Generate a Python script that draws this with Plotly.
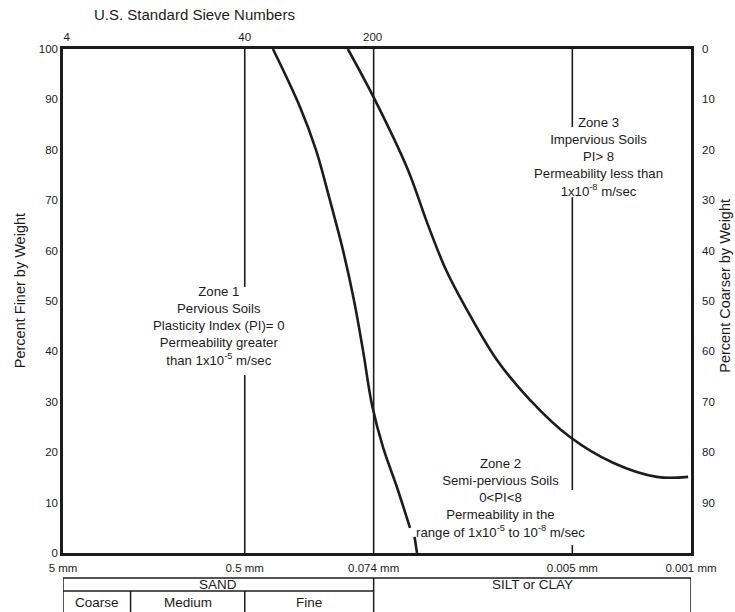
import plotly.graph_objects as go
import math

# ---------------- data ----------------
size_tick_vals = [5, 0.425, 0.074, 0.005, 0.001]
size_tick_text = ["5 mm", "0.5 mm", "0.074 mm", "0.005 mm", "0.001 mm"]
sieve_sizes_mm = [4.75, 0.425, 0.075]
sieve_labels = ["4", "40", "200"]
finer_ticks = [0, 10, 20, 30, 40, 50, 60, 70, 80, 90, 100]
coarser_ticks = [0, 10, 20, 30, 40, 50, 60, 70, 80, 90]

curve1_mm = [0.290, 0.201, 0.1618, 0.1339, 0.1122, 0.0967, 0.0856, 0.0757, 0.0652, 0.0540, 0.0452, None, 0.0425, 0.0411]
curve1_pct = [100, 88.5, 80.0, 70.0, 60.1, 50.2, 40.3, 29.4, 21.0, 13.1, 5.0, None, 3.2, 0]

curve2_mm = [0.105, 0.0737, 0.04645, 0.03544, 0.02776, 0.02116, 0.0139, 0.00889, 0.00516, 0.00288, 0.00159, 0.00104]
curve2_pct = [100, 90.3, 76.0, 65.1, 56.2, 48.6, 38.3, 30.4, 23.0, 17.9, 15.1, 15.1]

# zone boundary lines (x in mm, visible segments in percent finer)
line_a_mm, line_a_pct = [0.425, 0.425, None, 0.425, 0.425], [100, 52.8, None, 35.3, 0]
line_b_mm, line_b_pct = [0.074, 0.074], [100, 0]
line_c_mm, line_c_pct = [0.005, 0.005, None, 0.005, 0.005, None, 0.005, 0.005], [100, 84.5, None, 70.6, 12.5, None, 1.6, 0]

zone_text = [
    "Zone 1<br>Pervious Soils<br>Plasticity Index (PI)= 0<br>Permeability greater<br>than 1x10<sup>-5</sup> m/sec",
    "Zone 2<br>Semi-pervious Soils<br>0<PI<8<br>Permeability in the<br>range of 1x10<sup>-5</sup> to 10<sup>-8</sup> m/sec",
    "Zone 3<br>Impervious Soils<br>PI> 8<br>Permeability less than<br>1x10<sup>-8</sup> m/sec",
]
zone_x_mm = [0.603, 0.0132, 0.00349]
zone_y_pct = [45.0, 10.9, 78.5]

# soil classification table
sand_bounds_mm = [5, 2.0, 0.425, 0.074]
sand_sub_labels = ["Coarse", "Medium", "Fine"]
fines_bounds_mm = [0.074, 0.001]

INK = "#1c1c1c"
FONT = "Liberation Sans, Arial, sans-serif"

fig = go.Figure()

for xs, ys in [(line_a_mm, line_a_pct), (line_b_mm, line_b_pct), (line_c_mm, line_c_pct)]:
    fig.add_trace(go.Scatter(x=xs, y=ys, mode="lines", line=dict(color=INK, width=1.6),
                             hoverinfo="skip", showlegend=False, connectgaps=False))

for xs, ys in [(curve1_mm, curve1_pct), (curve2_mm, curve2_pct)]:
    fig.add_trace(go.Scatter(x=xs, y=ys, mode="lines", line=dict(color=INK, width=2.6, shape="spline", smoothing=1.0),
                             showlegend=False, connectgaps=False))

# invisible trace for secondary axes
fig.add_trace(go.Scatter(x=[sieve_sizes_mm[0]], y=[coarser_ticks[0]], xaxis="x2", yaxis="y2",
                         mode="markers", marker=dict(opacity=0), hoverinfo="skip", showlegend=False))

xr = [math.log10(5), math.log10(0.001)]
tickfont = dict(family=FONT, size=11.5, color=INK)

fig.update_layout(
    width=735, height=612,
    margin=dict(l=63, r=44, t=49, b=59),
    paper_bgcolor="white", plot_bgcolor="white",
    font=dict(family=FONT, color=INK),
    xaxis=dict(type="log", range=xr, tickvals=size_tick_vals, ticktext=size_tick_text,
               showgrid=False, zeroline=False, showline=True, linecolor=INK, linewidth=2.5,
               mirror=True, ticks="", tickfont=tickfont, ticklabelstandoff=2),
    xaxis2=dict(type="log", range=xr, overlaying="x", side="top", tickvals=sieve_sizes_mm,
                ticktext=sieve_labels, showgrid=False, zeroline=False, showline=False, ticks="",
                tickfont=tickfont, ticklabelstandoff=5),
    yaxis=dict(range=[0, 100], tickvals=finer_ticks, showgrid=False, zeroline=False,
               showline=True, linecolor=INK, linewidth=2.5, mirror=True, ticks="",
               tickfont=tickfont, ticklabelstandoff=0),
    yaxis2=dict(range=[100, 0], overlaying="y", side="right", tickvals=coarser_ticks,
                showgrid=False, zeroline=False, showline=False, ticks="", tickfont=tickfont,
                ticklabelstandoff=10),
)

ann_font = dict(family=FONT, size=13.2, color=INK)
for t, xm, yp in zip(zone_text, zone_x_mm, zone_y_pct):
    fig.add_annotation(x=math.log10(xm), y=yp, xref="x", yref="y", text=t, showarrow=False,
                       font=ann_font, align="center", xanchor="center", yanchor="middle")

fig.add_annotation(x=0.21, y=1.068, xref="paper", yref="paper", text="U.S. Standard Sieve Numbers",
                   showarrow=False, xanchor="center", yanchor="middle",
                   font=dict(family=FONT, size=15, color=INK))
fig.add_annotation(x=-0.068, y=0.52, xref="paper", yref="paper", text="Percent Finer by Weight",
                   textangle=-90, showarrow=False, xanchor="center", yanchor="middle",
                   font=dict(family=FONT, size=14.5, color=INK))
fig.add_annotation(x=1.054, y=0.53, xref="paper", yref="paper", text="Percent Coarser by Weight",
                   textangle=-90, showarrow=False, xanchor="center", yanchor="middle",
                   font=dict(family=FONT, size=14.5, color=INK))

# table below the chart (shapes on a log axis take raw data values)
plot_h = 612 - 49 - 59
def py(px):
    return -(px - 553) / plot_h

tline = dict(color=INK, width=1.5)
y_top, y_mid, y_bot = py(578), py(591), py(640)
def hline(xa, xb, yv):
    fig.add_shape(type="line", xref="x", yref="paper", x0=xa, x1=xb, y0=yv, y1=yv, line=tline)
def vline(xv, ya, yb):
    fig.add_shape(type="line", xref="x", yref="paper", x0=xv, x1=xv, y0=ya, y1=yb, line=tline)

hline(sand_bounds_mm[0], fines_bounds_mm[1], y_top)
hline(sand_bounds_mm[0], sand_bounds_mm[-1], y_mid)
vline(sand_bounds_mm[0], y_top, y_bot)
vline(fines_bounds_mm[1], y_top, y_bot)
vline(sand_bounds_mm[-1], y_top, y_bot)
for b in sand_bounds_mm[1:-1]:
    vline(b, y_mid, y_bot)

lx = lambda v: math.log10(v)
tfont = dict(family=FONT, size=13.5, color=INK)
fig.add_annotation(x=(lx(sand_bounds_mm[0]) + lx(sand_bounds_mm[-1])) / 2, y=py(584), xref="x", yref="paper",
                   text="SAND", showarrow=False, font=tfont, xanchor="center", yanchor="middle")
for i, lab in enumerate(sand_sub_labels):
    fig.add_annotation(x=(lx(sand_bounds_mm[i]) + lx(sand_bounds_mm[i + 1])) / 2, y=py(602), xref="x", yref="paper",
                       text=lab, showarrow=False, font=tfont, xanchor="center", yanchor="middle")
fig.add_annotation(x=(lx(fines_bounds_mm[0]) + lx(fines_bounds_mm[1])) / 2, y=py(584), xref="x", yref="paper",
                   text="SILT or CLAY", showarrow=False, font=tfont, xanchor="center", yanchor="middle")

fig.write_html("out.html", config={"displayModeBar": False},
               post_script="document.body.style.margin='0';document.body.style.overflow='hidden';")
